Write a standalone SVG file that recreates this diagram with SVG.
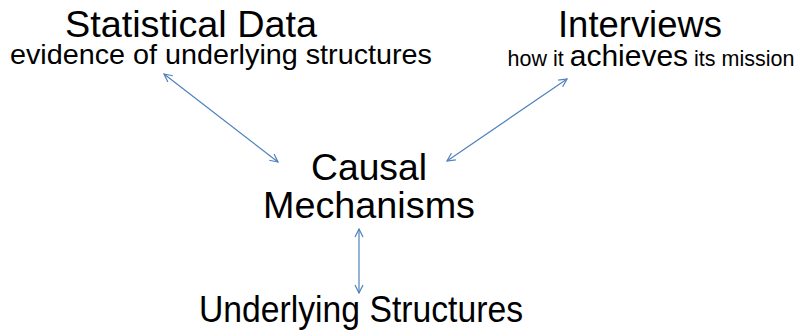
<svg xmlns="http://www.w3.org/2000/svg" width="804" height="334" viewBox="0 0 804 334">
  <style>
    text { font-family: "Liberation Sans", Arial, sans-serif; fill: #000; text-anchor: middle; }
    .big { font-size: 36px; }
    .sub { font-size: 28px; }
    .mid { font-size: 30px; }
    .small { font-size: 21.5px; }
    .link { stroke: #4f81bd; stroke-width: 1.2; fill: none; marker-start: url(#head); marker-end: url(#head); }
  </style>
  <defs>
    <marker id="head" viewBox="0 0 10 10" refX="9" refY="5" markerWidth="10" markerHeight="10" markerUnits="userSpaceOnUse" orient="auto-start-reverse">
      <path d="M1,1 L9,5 L1,9" fill="none" stroke="#4f81bd" stroke-width="1.2"/>
    </marker>
  </defs>
  <rect width="804" height="334" fill="#fff"/>

  <g id="statistical-data">
    <text class="big" x="191" y="37" textLength="252" lengthAdjust="spacingAndGlyphs">Statistical Data</text>
    <text class="sub" x="221" y="64" textLength="422" lengthAdjust="spacingAndGlyphs">evidence of underlying structures</text>
  </g>

  <g id="interviews">
    <text class="big" x="640" y="37" textLength="164" lengthAdjust="spacingAndGlyphs">Interviews</text>
    <text x="651" y="66"><tspan class="small">how it </tspan><tspan class="mid">achieves</tspan><tspan class="small"> its mission</tspan></text>
  </g>

  <g id="causal-mechanisms">
    <text class="big" x="369" y="180" textLength="116" lengthAdjust="spacingAndGlyphs">Causal</text>
    <text class="big" x="369" y="218" textLength="212" lengthAdjust="spacingAndGlyphs">Mechanisms</text>
  </g>

  <g id="underlying-structures">
    <text class="big" x="361" y="322" textLength="324" lengthAdjust="spacingAndGlyphs">Underlying Structures</text>
  </g>

  <g id="connectors">
    <line class="link" x1="164" y1="74" x2="278" y2="162"/>
    <line class="link" x1="567" y1="79" x2="447" y2="161"/>
    <line class="link" x1="359" y1="229" x2="359" y2="293"/>
  </g>
</svg>
